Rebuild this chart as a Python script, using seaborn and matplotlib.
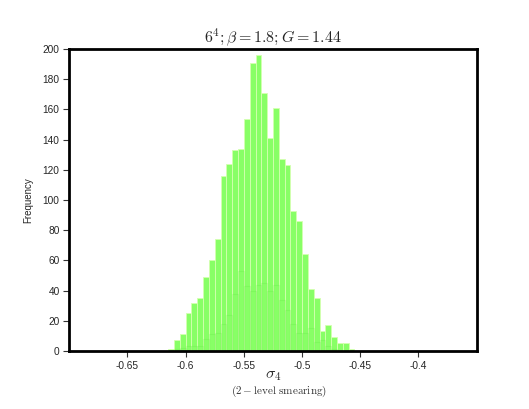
import numpy as np
import pandas as pd
import seaborn as sns
import matplotlib.pyplot as plt

# bordes de los bins (ancho 0.005)
bordes = [round(b, 3) for b in np.linspace(-0.615, -0.455, 33)]

conteo_principal = [1, 7, 11, 25, 32, 35, 49, 60, 74, 116, 124, 133, 134, 154, 191, 196,
                    171, 141, 161, 127, 123, 93, 86, 64, 41, 35, 13, 17, 9, 5, 5, 1]
# segundo histograma (tenue, detras)
conteo_secundario = [0, 1, 2, 3, 3, 3, 8, 11, 12, 18, 24, 38, 53, 43, 40, 44,
                     45, 40, 44, 34, 27, 18, 12, 12, 15, 6, 7, 3, 1, 0, 0, 0]

ticks_x = [-0.65, -0.6, -0.55, -0.5, -0.45, -0.4]
etiquetas_x = ['-0.65', '-0.6', '-0.55', '-0.5', '-0.45', '-0.4']
ticks_y = list(range(0, 201, 20))

centros = [(a + b) / 2 for a, b in zip(bordes[:-1], bordes[1:])]
df = pd.DataFrame({'sigma': centros, 'principal': conteo_principal,
                   'secundario': conteo_secundario})

sns.set_style('white')
plt.rcParams['font.family'] = ['Liberation Sans', 'DejaVu Sans']
plt.rcParams['mathtext.fontset'] = 'cm'

fig = plt.figure(figsize=(5.29, 4.09), dpi=100)
ax = fig.add_axes([0.131, 0.142, 0.770, 0.738])

sns.histplot(data=df, x='sigma', weights='principal', bins=bordes, ax=ax,
             color='#88ff66', alpha=1.0, edgecolor='#d4ffb0', linewidth=0.6)
sns.histplot(data=df, x='sigma', weights='secundario', bins=bordes, ax=ax,
             fill=False, element='bars', color='#50e030', alpha=0.18, linewidth=0.8)

ax.set_xlim(-0.70, -0.35)
ax.set_ylim(0, 200)
ax.set_xticks(ticks_x)
ax.set_xticklabels(etiquetas_x)
ax.set_yticks(ticks_y)
ax.tick_params(axis='both', direction='out', length=4, width=0.8, color='#333333',
               labelsize=7.3, pad=3, bottom=True, left=True)
for lado in ax.spines.values():
    lado.set_linewidth(2)
    lado.set_color('black')

ax.set_ylabel('Frequency', fontsize=7, labelpad=7)
ax.set_xlabel(r'$\sigma_4$', fontsize=11.5, labelpad=-2)
fig.text(0.527, 0.042, r'$(2-\mathrm{level\ smearing})$', ha='center', va='center',
         fontsize=8, color='#333333')
ax.set_title(r'$6^4;\beta=1.8;G=1.44$', fontsize=11.5, pad=5)

fig.savefig('out.png', dpi=100)
